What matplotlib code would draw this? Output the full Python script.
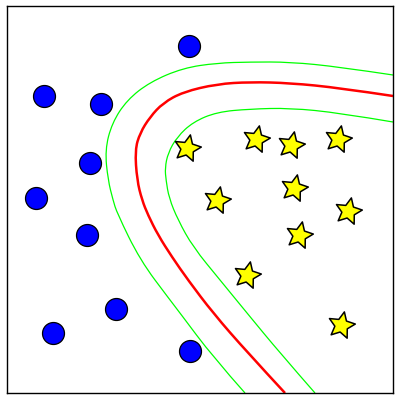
import numpy as np
import matplotlib
matplotlib.use("Agg")
import matplotlib.pyplot as plt
from matplotlib.path import Path
from matplotlib.patches import PathPatch
from matplotlib.markers import MarkerStyle
from matplotlib.transforms import Affine2D

# class A (blue circles), image-style coordinates (y grows downwards)
circle_x = [189, 44, 101, 90, 36, 87, 116, 53, 190]
circle_y = [46, 96, 104, 163, 198, 235, 309, 333, 351]

# class B (yellow stars)
star_x = [187, 256, 291, 338, 217, 294, 348, 299, 247, 341]
star_y = [148, 139, 145, 139, 200, 188, 211, 235, 275, 325]

# decision boundary (red) and margins (green)
red_x = [285, 247, 213, 188, 172, 158, 148, 142, 137, 135, 140, 150, 163, 183, 217, 250, 290, 340, 393]
red_y = [393, 352, 313, 280, 257, 235, 215, 200, 180, 150, 133, 117, 103, 92, 84, 82, 83, 88, 96]

outer_x = [245, 213, 180, 170, 140, 117, 113, 108, 105, 112, 127, 150, 183, 217, 250, 290, 340, 393]
outer_y = [393, 357, 313, 300, 260, 213, 200, 180, 150, 123, 100, 82, 68, 63, 62, 62, 67, 75]

inner_x = [315, 280, 247, 220, 193, 178, 169, 166, 165, 168, 177, 193, 217, 250, 290, 340, 393]
inner_y = [393, 353, 313, 280, 247, 220, 198, 180, 168, 153, 137, 122, 112, 109, 108, 113, 122]


def fat_star(inner=0.5):
    """Five-pointed star path with a fatter body than matplotlib's '*'."""
    ang = np.pi / 2 + np.arange(10) * np.pi / 5
    r = np.where(np.arange(10) % 2 == 0, 1.0, inner)
    verts = np.column_stack([r * np.cos(ang), r * np.sin(ang)])
    verts = np.vstack([verts, verts[:1]])
    codes = [Path.MOVETO] + [Path.LINETO] * 9 + [Path.CLOSEPOLY]
    return Path(verts, codes)


def smooth_path(xs, ys):
    """Quadratic Bezier path using the points as control points (midpoints on curve)."""
    p = np.column_stack([xs, ys]).astype(float)
    verts = [p[0]]
    codes = [Path.MOVETO]
    for i in range(1, len(p) - 1):
        end = p[i + 1] if i == len(p) - 2 else (p[i] + p[i + 1]) / 2
        verts += [p[i], end]
        codes += [Path.CURVE3, Path.CURVE3]
    return Path(verts, codes)


star_marker = MarkerStyle(fat_star(0.48), transform=Affine2D().rotate_deg(-12))

fig = plt.figure(figsize=(4, 4), dpi=100)
ax = fig.add_axes([7 / 400, 7 / 400, 386 / 400, 387 / 400])

for xs, ys, col, lw in [(outer_x, outer_y, "#00ff00", 0.9),
                        (inner_x, inner_y, "#00ff00", 0.9),
                        (red_x, red_y, "#ff0000", 1.8)]:
    ax.add_patch(PathPatch(smooth_path(xs, ys), fill=False, edgecolor=col, lw=lw))

ax.scatter(circle_x, circle_y, s=250, c="#0000ff", edgecolors="black", linewidths=0.9, zorder=3)
ax.scatter(star_x, star_y, s=400, marker=star_marker, c="#ffff00", edgecolors="black",
           linewidths=1.1, zorder=3)

ax.set_xlim(7, 393)
ax.set_ylim(393, 6)
ax.set_xticks([])
ax.set_yticks([])
for sp in ax.spines.values():
    sp.set_linewidth(1.0)
    sp.set_color("black")

fig.savefig("out.png", dpi=100)
